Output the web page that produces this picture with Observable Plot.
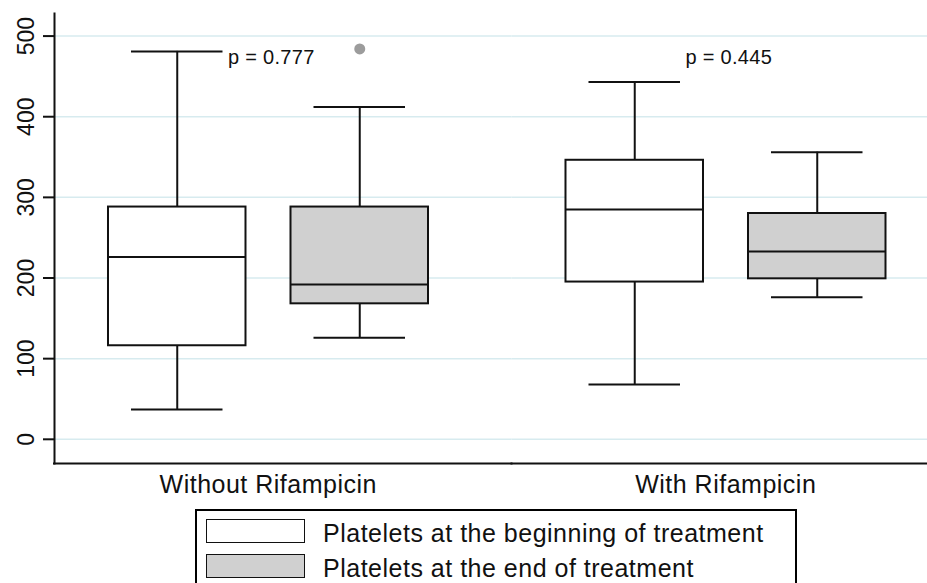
<!DOCTYPE html>
<html>
<head>
<meta charset="utf-8">
<script src="https://cdn.jsdelivr.net/npm/d3@7"></script>
<script src="https://cdn.jsdelivr.net/npm/@observablehq/plot@0.6"></script>
<style>
  html, body { margin: 0; padding: 0; background: #fff; width: 927px; height: 583px; overflow: hidden; }
  #chart svg { overflow: hidden !important; display: block; max-width: none !important; }
  #legend {
    box-sizing: border-box; margin: 9px 0 0 195px; width: 602px; height: 100px;
    border: 2px solid #000; border-bottom: none; padding: 8px 0 0 9px;
    font-family: "Liberation Sans", Arial, sans-serif; font-size: 25px; letter-spacing: 0.5px; color: #111;
  }
  #legend .row { display: flex; align-items: center; height: 24px; margin-bottom: 11px; }
  #legend .sw { box-sizing: border-box; flex: none; width: 99px; height: 24px; border: 1.6px solid #111; margin-right: 18px; }
  #legend .lbl { position: relative; top: 2px; white-space: nowrap; }
</style>
</head>
<body>
<div id="chart"></div>
<div id="legend"></div>
<script>
// ---- data ----
const groups = ["Without Rifampicin", "With Rifampicin"];
const timepoints = ["Platelets at the beginning of treatment", "Platelets at the end of treatment"];
// order: Without/beginning, Without/end, With/beginning, With/end
const lowerWhisker  = [37, 126, 68, 176];
const lowerQuartile = [116, 168, 195, 199];
const medians       = [226, 192, 285, 233];
const upperQuartile = [288, 288, 346, 280];
const upperWhisker  = [481, 412, 443, 356];
const outlierGroups = ["Without Rifampicin"];
const outlierTimes  = ["Platelets at the end of treatment"];
const outlierValues = [484];
const pLabels = ["p = 0.777", "p = 0.445"];
const yTicks = [0, 100, 200, 300, 400, 500];
const yDomain = [-30, 528];

// ---- tables built from the arrays ----
const stats = [];
groups.forEach((g, gi) => timepoints.forEach((t, ti) => {
  const i = gi * timepoints.length + ti;
  stats.push({group: g, time: t, low: lowerWhisker[i], q1: lowerQuartile[i], med: medians[i], q3: upperQuartile[i], high: upperWhisker[i]});
}));
const outliers = outlierValues.map((v, i) => ({group: outlierGroups[i], time: outlierTimes[i], value: v}));

const font = "'Liberation Sans', Arial, sans-serif";
const chart = Plot.plot({
  width: 927,
  height: 500,
  marginTop: 13,
  marginBottom: 37,
  marginLeft: 54,
  marginRight: 0,
  style: {fontFamily: font, background: "white", color: "#111"},
  fx: {domain: groups, range: [54, 969], paddingInner: 0, paddingOuter: 0, round: false},
  x: {domain: timepoints, paddingInner: 0.2466, paddingOuter: 0.3767, align: 0.3927, axis: null, round: false},
  y: {domain: yDomain},
  color: {domain: timepoints, range: ["#ffffff", "#d0d0d0"]},
  marks: [
    Plot.gridY(yTicks, {stroke: "#d7ebef", strokeOpacity: 1, strokeWidth: 1.5}),
    Plot.ruleY([yDomain[0]], {stroke: "#111", strokeWidth: 2, strokeLinecap: "square"}),
    Plot.frame({anchor: "left", facetAnchor: "left", stroke: "#111", strokeWidth: 2}),
    Plot.axisY(yTicks, {tickSize: 11, tickPadding: 10, tickRotate: -90, fontSize: 23, strokeWidth: 2, label: null}),
    Plot.axisFx({anchor: "bottom", tickSize: 0, tickPadding: 12, dx: -15, fontSize: 25, label: null}),
    Plot.ruleX(stats, {fx: "group", x: "time", y1: "low", y2: "q1", stroke: "#111", strokeWidth: 2}),
    Plot.ruleX(stats, {fx: "group", x: "time", y1: "q3", y2: "high", stroke: "#111", strokeWidth: 2}),
    Plot.tickY(stats, {fx: "group", x: "time", y: "low", insetLeft: 23, insetRight: 23, stroke: "#111", strokeWidth: 2}),
    Plot.tickY(stats, {fx: "group", x: "time", y: "high", insetLeft: 23, insetRight: 23, stroke: "#111", strokeWidth: 2}),
    Plot.barY(stats, {fx: "group", x: "time", y1: "q1", y2: "q3", fill: "time", stroke: "#111", strokeWidth: 2}),
    Plot.tickY(stats, {fx: "group", x: "time", y: "med", stroke: "#111", strokeWidth: 2}),
    Plot.dot(outliers, {fx: "group", x: "time", y: "value", r: 5.5, fill: "#9c9c9c", stroke: "none"}),
    Plot.text(pLabels, {fx: groups, text: d => d, frameAnchor: "top", dy: 36, dx: -12, fontSize: 20, fill: "#111"})
  ]
});
document.getElementById("chart").appendChild(chart);

// slight horizontal stretch of the horizontal texts, as in the reference
const svg = d3.select(chart);
svg.selectAll('[aria-label="fx-axis tick label"] text').style("letter-spacing", "0.5px");
svg.selectAll('[aria-label="text"] text').style("letter-spacing", "0.3px");

// ---- legend (below the SVG), colours from the plot's own colour scale ----
const colorScale = chart.scale("color");
const legend = d3.select("#legend");
colorScale.domain.forEach((t, i) => {
  const row = legend.append("div").attr("class", "row");
  row.append("span").attr("class", "sw").style("background", colorScale.range[i]);
  row.append("span").attr("class", "lbl").text(t);
});
</script>
</body>
</html>
